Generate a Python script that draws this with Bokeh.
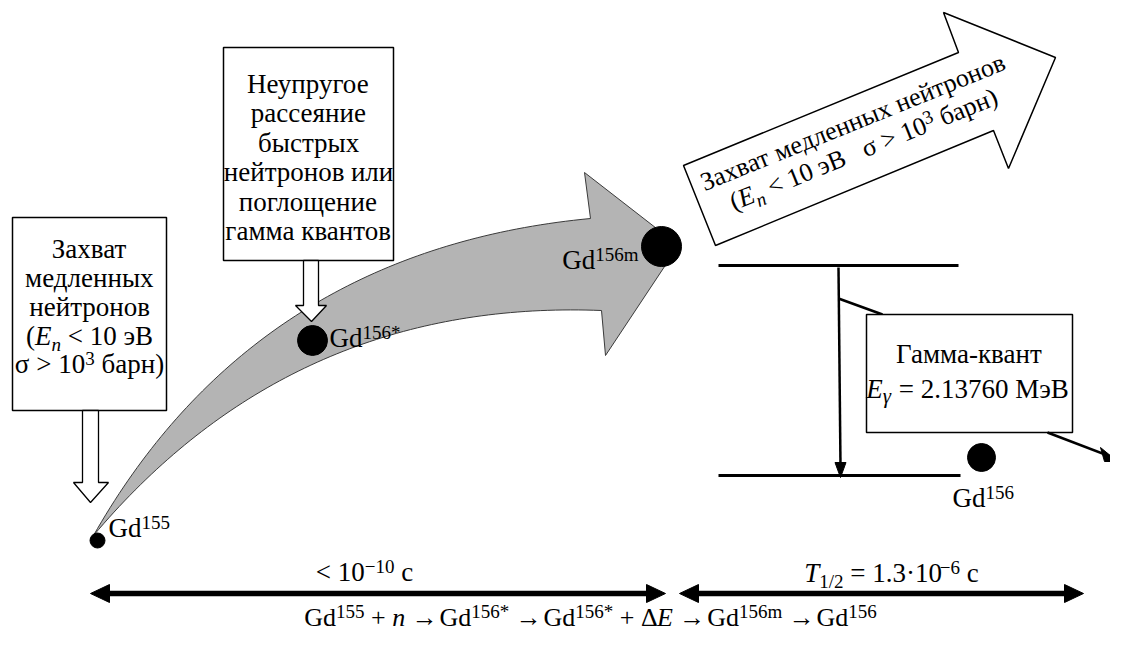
import numpy as np
from bokeh.plotting import figure
from bokeh.models import Range1d, ColumnDataSource
from bokeh.embed import file_html
from bokeh.resources import INLINE
from bokeh.core.properties import value

H = 631          # plot height in px (reference pixel rows 0..631 are shown 1:1)
WD = 1110
FONT = "'Liberation Serif', 'Times New Roman', serif"

# ---------------- texts ----------------
box1_lines = ["Захват", "медленных", "нейтронов"]
box2_lines = ["Неупругое", "рассеяние", "быстрых", "нейтронов или", "поглощение", "гамма квантов"]
gamma_title = "Гамма-квант"
gamma_value = "2.13760 МэВ"
arrow_line1 = "Захват медленных нейтронов"
energy_limit = "10 эВ"
cross_section = "барн)"
time_fast = "< 10"
time_half = "1.3·10"
isotopes = ["155", "156*", "156m", "156"]

# ---------------- geometry (reference pixel coordinates) ----------------
box1 = (12, 217, 166, 410)
box2 = (223, 47, 393, 260)
gamma_box = (866, 314, 1072, 432)
hollow1 = dict(x0=82, x1=98, top=410, sb=482, hx0=73, hx1=108, tip=(90, 502))
hollow2 = dict(x0=303, x1=318, top=260, sb=305, hx0=295, hx1=326, tip=(311, 321))
dots_x = [97, 312, 661, 981]
dots_y = [540, 340, 246, 457]
dots_r = [7.5, 15, 20, 14]
white_arrow_x = [715, 683, 958, 943, 1055, 1008, 993]
white_arrow_y = [245, 165, 52, 12, 57, 168, 130]

# ---------------- font metrics (Times / Liberation Serif, per 1000 em) ----------------
TW = {' ': 250, '(': 333, ')': 333, '*': 500, '+': 564, '<': 564, '>': 564, '=': 564,
      '-': 333, '.': 250, '/': 278, '·': 250, '−': 564, '→': 820, 'σ': 550, 'γ': 440,
      'Δ': 612, 'G': 722, 'd': 500, 'm': 778, 'n': 500, 'E': 611, 'T': 556, 'c': 444}
for ch in "0123456789":
    TW[ch] = 500
_cu = "АБВГДЕЖЗИЙКЛМНОПРСТУФХЦЧШЩЪЫЬЭЮЯ"
_cuw = [722, 574, 667, 578, 682, 611, 896, 501, 722, 722, 667, 678, 889, 722, 722, 722, 556, 667,
        611, 709, 790, 722, 722, 650, 1009, 1009, 706, 872, 574, 660, 1028, 667]
_cl = "абвгдежзийклмнопрстуфхцчшщъыьэюя"
_clw = [444, 509, 472, 410, 509, 444, 691, 395, 535, 535, 486, 499, 633, 535, 500, 535, 500, 444,
        437, 500, 648, 500, 535, 503, 770, 770, 517, 672, 456, 429, 747, 483]
TW.update(dict(zip(_cu, _cuw)))
TW.update(dict(zip(_cl, _clw)))


def tw(s):
    return sum(TW.get(ch, 500) for ch in s) / 1000.0


T = dict(x=[], y=[], text=[], size=[], style=[], angle=[])
BASE_FIX = 0.3   # renderer places 'alphabetic' baseline a little low; compensate (em)


def rich(pieces, x, y, align="center", angle=0.0):
    """pieces: (text, size_px, style, rise_px); x, y: baseline anchor in reference px."""
    a = np.deg2rad(angle)
    c, sn = np.cos(a), np.sin(a)
    widths = [tw(t) * s for t, s, st, r in pieces]
    W = sum(widths)
    pos = {"left": 0.0, "center": -W / 2, "right": -W}[align]
    yd = H - y
    for (t, s, st, r), w in zip(pieces, widths):
        r = r + BASE_FIX * s
        sub = pos
        words = t.split(" ")
        for i, wd in enumerate(words):
            if wd:
                T["x"].append(x + sub * c - r * sn)
                T["y"].append(yd + sub * sn + r * c)
                T["text"].append(wd)
                T["size"].append(f"{s}px")
                T["style"].append(st)
                T["angle"].append(a)
            sub += tw(wd) * s + (tw(" ") * s if i < len(words) - 1 else 0)
        pos += w


N, I = "normal", "italic"
F = 27       # main font size
S = 19       # sup / sub size
UP = 8       # superscript rise
DN = -6      # subscript drop

# box 1
for line, yb in zip(box1_lines, [257, 286, 315]):
    rich([(line, F, N, 0)], 89, yb)
rich([("(", F, N, 0), ("E", F, I, 0), ("n", S, I, DN), (" < " + energy_limit, F, N, 0)], 89, 344)
rich([("σ > 10", F, N, 0), ("3", S, N, UP), (" " + cross_section, F, N, 0)], 89, 372)

# box 2
for line, yb in zip(box2_lines, [92, 121, 151, 180, 210, 239]):
    rich([(line, F, N, 0)], 308, yb)

# isotope labels
rich([("Gd", F, N, 0), (isotopes[0], S, N, UP)], 108, 536, align="left")
rich([("Gd", F, N, 0), (isotopes[1], S, N, UP)], 329, 346, align="left")
rich([("Gd", F, N, 0), (isotopes[2], S, N, UP)], 638, 268, align="right")
rich([("Gd", F, N, 0), (isotopes[3], S, N, UP)], 952, 506, align="left")

# gamma box
rich([(gamma_title, F, N, 0)], 969, 362)
rich([("E", F, I, 0), ("γ", S + 2, I, -5), (" = " + gamma_value, F, N, 0)], 967, 397)

# rotated arrow text
ANG = 22.0
RF = 26
rich([(arrow_line1, RF, N, 0)], 855, 129, angle=ANG)
rich([("(", RF, N, 0), ("E", RF, I, 0), ("n", S, I, DN), (" < " + energy_limit + "   σ > 10", RF, N, 0),
      ("3", S, N, UP), (" " + cross_section, RF, N, 0)], 866, 156, angle=ANG)

# time labels
rich([(time_fast, F, N, 0), ("−10", S, N, UP), (" с", F, N, 0)], 364, 580)
rich([("T", F, I, 0), ("1/2", S, N, DN), (" = " + time_half, F, N, 0), ("−6", S, N, UP), (" с", F, N, 0)], 891, 581)

# equation
E = 26
rich([("Gd", E, N, 0), ("155", S, N, UP), (" + ", E, N, 0), ("n", E, I, 0), (" → Gd", E, N, 0),
      ("156*", S, N, UP), (" → Gd", E, N, 0), ("156*", S, N, UP), (" + Δ", E, N, 0), ("E", E, I, 0),
      (" → Gd", E, N, 0), ("156m", S, N, UP), (" → Gd", E, N, 0), ("156", S, N, UP)], 590, 625)

# ---------------- figure ----------------
p = figure(width=WD, height=H, output_backend="svg", toolbar_location=None,
           x_range=Range1d(0, WD), y_range=Range1d(0, H),
           x_axis_location=None, y_axis_location=None, min_border=0)
p.grid.visible = False
p.outline_line_color = None
p.background_fill_color = "white"


def Y(v):
    return [H - t for t in v]


def qbez(p0, p1, p2, n=80):
    t = np.linspace(0, 1, n)[:, None]
    p0, p1, p2 = map(np.array, (p0, p1, p2))
    return (1 - t) ** 2 * p0 + 2 * t * (1 - t) * p1 + t ** 2 * p2


# gray curved arrow
upper = qbez((93, 535), (255, 250), (590, 218))
lower = qbez((93, 535), (293, 298), (601, 310))[::-1]
head = np.array([(584, 172), (678, 245), (605, 355), (601, 310)])
g = np.vstack([upper, head, lower])
p.patch(g[:, 0], Y(g[:, 1]), fill_color="#b4b4b4", line_color="#3a3a3a", line_width=1)


def hollow(a):
    xs = [a["x0"], a["x1"], a["x1"], a["hx1"], a["tip"][0], a["hx0"], a["x0"]]
    ys = [a["top"], a["top"], a["sb"], a["sb"], a["tip"][1], a["sb"], a["sb"]]
    p.patch(xs, Y(ys), fill_color="white", line_color="black", line_width=1.3)


def box(b):
    x0, y0, x1, y1 = b
    p.patch([x0, x1, x1, x0], Y([y0, y0, y1, y1]), fill_color="white", line_color="black", line_width=1.5)


box(box1)
box(box2)
hollow(hollow1)
hollow(hollow2)

# white rotated arrow
p.patch(white_arrow_x, Y(white_arrow_y), fill_color="white", line_color="black", line_width=1.5)

# energy levels
p.line([718, 958], Y([265, 265]), line_color="black", line_width=3)
p.line([718, 960], Y([475, 475]), line_color="black", line_width=3)
p.line([838, 840], Y([267, 466]), line_color="black", line_width=2.5)
p.patch([834.5, 845.5, 840], Y([462, 462, 477]), fill_color="black", line_color="black")
p.line([838, 882], Y([298, 314]), line_color="black", line_width=2.5)
box(gamma_box)
p.line([1047, 1110], Y([432, 456]), line_color="black", line_width=2.5)
p.patch([1100, 1104, 1117], Y([447, 461, 461]), fill_color="black", line_color="black")

# double arrows
AY = 593
for xl, xr in [(90, 665), (679, 1083)]:
    p.line([xl + 10, xr - 10], Y([AY, AY]), line_color="black", line_width=5.5)
    p.patch([xl, xl + 19, xl + 19], Y([AY, AY - 9, AY + 9]), fill_color="black", line_color="black")
    p.patch([xr, xr - 19, xr - 19], Y([AY, AY - 9, AY + 9]), fill_color="black", line_color="black")

# dots
p.circle(dots_x, Y(dots_y), radius=dots_r, fill_color="black", line_color="black")

# texts
src = ColumnDataSource(T)
p.text(x="x", y="y", text="text", angle="angle", text_font_size="size", text_font_style="style",
       text_font=value(FONT), text_align="left", text_baseline="alphabetic", text_color="black",
       source=src)

open("out.html", "w").write(file_html(p, INLINE))
